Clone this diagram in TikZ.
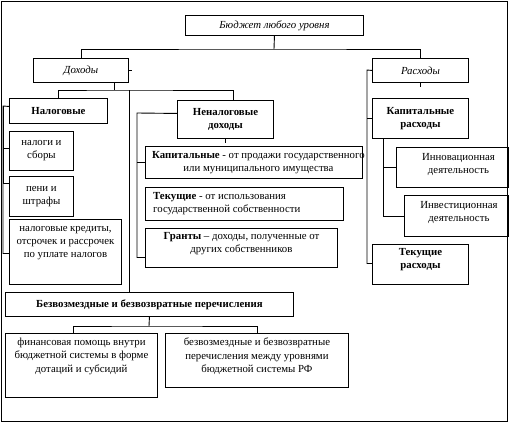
\documentclass[tikz,border=0pt]{standalone}
\usepackage{fontspec}
\setmainfont{Liberation Serif}
\usetikzlibrary{positioning}
\newcommand{\fsz}{\fontsize{10.8}{13.2}\selectfont}

\begin{document}
\begin{tikzpicture}[x=1pt,y=-1pt,
    box/.style={draw,line width=0.9pt,anchor=north west,inner sep=0pt,align=center,font=\fsz},
    txt/.style={inner sep=0pt,align=center,font=\fsz},
    link/.style={line width=0.9pt}]
  \useasboundingbox (0,0) rectangle (512,423);
  \draw[link] (1,1) rectangle (507,421);

  % top level
  \node[box,minimum width=178,minimum height=20] (bud) at (185,15) {\itshape Бюджет любого уровня};
  \node[box,minimum width=95,minimum height=24] (doh) at (33,58) {\itshape Доходы};
  \node[box,minimum width=96,minimum height=24] (ras) at (372,58) {\itshape Расходы};

  % income
  \node[box,minimum width=98,minimum height=25,font=\fsz\bfseries] (nal) at (9,98) {Налоговые};
  \node[box,minimum width=96,minimum height=38,font=\fsz\bfseries] (nenal) at (177,100) {Неналоговые\\доходы};
  \node[box,minimum width=64,minimum height=39] (sbor) at (9,131) {налоги и\\сборы};
  \node[box,minimum width=64,minimum height=40] (peni) at (9,176) {пени и\\штрафы};
  \node[box,minimum width=112,minimum height=65] (kred) at (9,219) {};
  \node[txt,below=7pt of kred.north] (kredtxt) {налоговые кредиты,\\отсрочек и рассрочек\\по уплате налогов};

  \node[box,minimum width=217,minimum height=32] (kapd) at (145,146) {};
  \node[txt] (kapdtxt) at ([xshift=4.5pt]kapd.center) {\textbf{Капитальные} - от продажи государственного\\или муниципального имущества};
  \node[box,minimum width=198,minimum height=33] (tek) at (145,187) {};
  \node[txt,align=left,anchor=west] (tektxt) at ([xshift=8pt]tek.west) {\textbf{Текущие} - от использования\\государственной собственности};
  \node[box,minimum width=192,minimum height=39] (gra) at (145,228) {};
  \node[txt] (gratxt) at ([yshift=4pt]gra.center) {\textbf{Гранты} – доходы, полученные от\\других собственников};

  % expenses
  \node[box,minimum width=96,minimum height=40,font=\fsz\bfseries] (kapr) at (372,98) {Капитальные\\расходы};
  \node[box,minimum width=112,minimum height=40] (innov) at (396,147) {};
  \node[txt] (innovtxt) at ([xshift=6pt,yshift=3pt]innov.center) {Инновационная\\деятельность};
  \node[box,minimum width=104,minimum height=41] (invest) at (404,195) {};
  \node[txt] (investtxt) at ([xshift=2.5pt,yshift=3.5pt]invest.center) {Инвестиционная\\деятельность};
  \node[box,minimum width=96,minimum height=40] (tekr) at (372,244) {};
  \node[txt,font=\fsz\bfseries] (tekrtxt) at ([yshift=5pt]tekr.center) {Текущие\\расходы};

  % transfers
  \node[box,minimum width=288,minimum height=24,font=\fsz\bfseries] (bezv) at (5,292) {Безвозмездные и безвозвратные перечисления};
  \node[box,minimum width=152,minimum height=64] (fin) at (5,333) {};
  \node[txt,below=5pt of fin.north] (fintxt) {финансовая помощь внутри\\бюджетной системы в форме\\дотаций и субсидий};
  \node[box,minimum width=183,minimum height=54] (rf) at (165,333) {};
  \node[txt,below=5pt of rf.north] (rftxt) {безвозмездные и безвозвратные\\перечисления между уровнями\\бюджетной системы РФ};

  % connectors
  \coordinate (tbar) at (274,49);
  \draw[link] (bud.south) -- (tbar);
  \draw[link] (doh.north) |- (tbar) -| (ras.north);

  \coordinate (dbar) at (114,90);
  \draw[link] (dbar |- doh.south) -- (dbar);
  \draw[link] (nal.north) |- (dbar) -| ([xshift=8pt]nenal.north);
  \coordinate (dtrunk) at (129,90);
  \draw[link] (dtrunk) -- (dtrunk |- bezv.north);

  \coordinate (nbus) at (3,106);
  \draw[link] ([yshift=4.5pt]nal.west) -- (nbus) |- ([yshift=-1.5pt]kred.west);
  \draw[link] ([yshift=2.5pt]sbor.west) -| (nbus);
  \draw[link] ([yshift=13pt]peni.west) -| (nbus);

  \coordinate (nnbus) at (137,113);
  \draw[link] ([yshift=6pt]nenal.west) -- (nnbus) |- ([yshift=-9.5pt]gra.west);
  \draw[link] (nnbus |- kapd.west) -- (kapd.west);

  \coordinate (rbus) at (367,70);
  \draw[link] (ras.west) -- (rbus) |- ([yshift=1pt]tekr.west);
  \draw[link] (rbus |- kapr.west) -- (kapr.west);
  \coordinate (kbus) at (383,138);
  \draw[link] (kbus) |- (invest.west);
  \draw[link] (kbus |- innov.west) -- (innov.west);

  \coordinate (bbar) at (149,326);
  \draw[link] (bezv.south) -- (bbar);
  \draw[link] ([xshift=-8pt]fin.north) |- (bbar) -| (rf.north);

  % small ticks
  \draw[link] (doh.east) -- ++(3,0);
  \draw[link] (ras.south) -- ++(0,4);
  \draw[link] (nenal.south) -- ++(0,4);
\end{tikzpicture}
\end{document}
